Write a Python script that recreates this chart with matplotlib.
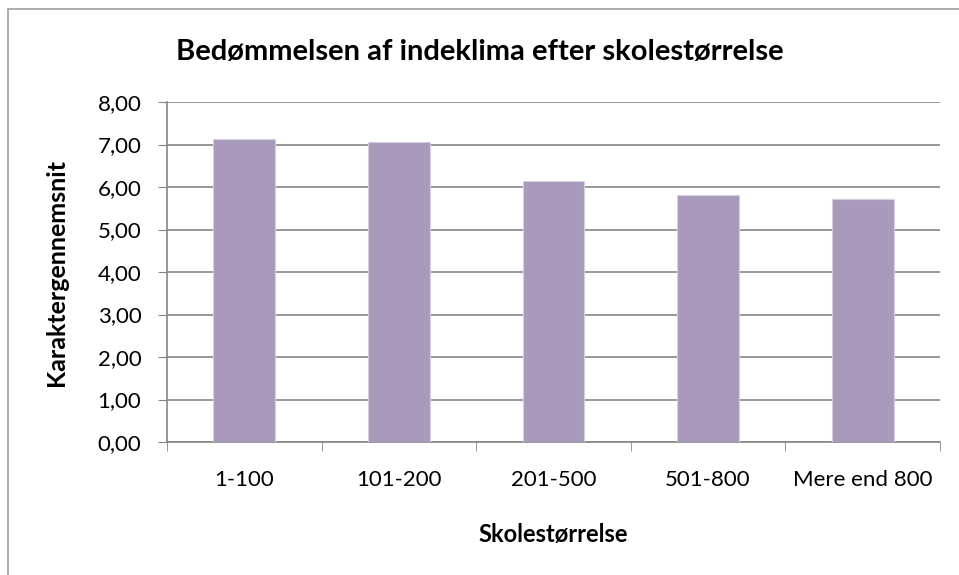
import matplotlib.pyplot as plt
import numpy as np
from matplotlib.patches import Rectangle

plt.rcParams['font.family'] = ['Lato', 'DejaVu Sans']

categories = ["1-100", "101-200", "201-500", "501-800", "Mere end 800"]
values = [7.12, 7.05, 6.13, 5.81, 5.71]
yticks = [0, 1, 2, 3, 4, 5, 6, 7, 8]
ytick_labels = ["0,00", "1,00", "2,00", "3,00", "4,00", "5,00", "6,00", "7,00", "8,00"]

grey = "#868686"

fig = plt.figure(figsize=(9.59, 5.75), dpi=100)
# chart border (right and bottom edges fall outside the image)
fig.patches.append(Rectangle((8 / 959, -0.05), 1.0, 1 - 9 / 575 + 0.05, transform=fig.transFigure,
                             fill=False, edgecolor="#a0a0a0", linewidth=1.2))

ax = fig.add_axes([167 / 959, 1 - 442 / 575, (940 - 167) / 959, (442 - 102) / 575])
x = np.arange(len(categories))
ax.bar(x, values, width=0.4, color="#a99abd", edgecolor="#d6cfe0", linewidth=0.8, zorder=3)

ax.set_xlim(-0.5, len(categories) - 0.5)
ax.set_ylim(0, 8)
ax.set_yticks(yticks)
ax.set_yticklabels(ytick_labels)
ax.set_xticks(x)
ax.set_xticklabels(categories)
ax.set_xticks(np.arange(-0.5, len(categories)), minor=True)
ax.tick_params(axis="x", which="major", length=0, pad=20, labelsize=16)
ax.tick_params(axis="x", which="minor", length=6.5, color=grey, direction="out")
ax.tick_params(axis="y", length=6.5, color=grey, direction="out", labelsize=16, pad=12)

ax.grid(axis="y", color=grey, linewidth=1.2, zorder=0)
for s in ["top", "right"]:
    ax.spines[s].set_visible(False)
for s in ["left", "bottom"]:
    ax.spines[s].set_color(grey)
    ax.spines[s].set_linewidth(1.2)

ax.set_ylabel("Karaktergennemsnit", fontsize=18, fontweight="bold")
ax.yaxis.set_label_coords((68 - 167) / (940 - 167), 0.5)
ax.set_xlabel("Skolestørrelse", fontsize=17, fontweight="bold", labelpad=24)
fig.text(0.5, 1 - 52 / 575, "Bedømmelsen af indeklima efter skolestørrelse", ha="center", va="center",
         fontsize=21, fontweight="bold")

fig.savefig("out.png", dpi=100)
